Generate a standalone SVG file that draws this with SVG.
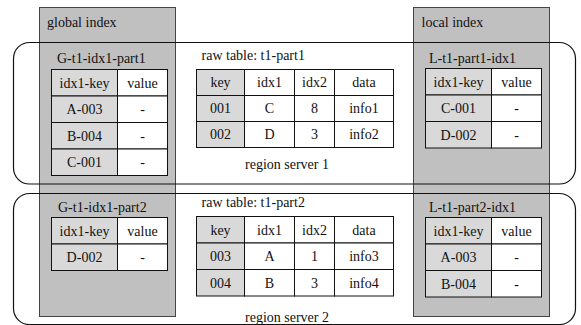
<svg xmlns="http://www.w3.org/2000/svg" width="581" height="325" viewBox="0 0 581 325">
<style>
text{font-family:'Liberation Serif','Times New Roman','DejaVu Serif',serif;font-size:14px;fill:#111}
.c{text-anchor:middle}
.panel{fill:#c0c0c0;stroke:#444;stroke-width:1}
.region{fill:none;stroke:#111;stroke-width:1.2}
.g{fill:#d9d9d9;stroke:#111;stroke-width:1}
.w{fill:#fff;stroke:#111;stroke-width:1}
</style>
<rect width="581" height="325" fill="#fff"/>
<g font-family="Liberation Serif, serif">
<g id="global-index">
<rect class="panel" x="39.5" y="7.5" width="136" height="309"/>
<text x="47" y="27">global index</text>
</g>
<g id="local-index">
<rect class="panel" x="413.5" y="7.5" width="136" height="309"/>
<text x="421.5" y="27">local index</text>
</g>
<g id="region-server-1">
<rect class="region" x="13.5" y="42.5" width="562" height="141.5" rx="16" ry="16"/>
<text x="287" y="169" class="c">region server 1</text>
</g>
<g id="region-server-2">
<rect class="region" x="13.5" y="193.5" width="562" height="131" rx="16" ry="16"/>
<text x="287" y="322" class="c">region server 2</text>
</g>
<g id="G-t1-idx1-part1">
<text x="57" y="63">G-t1-idx1-part1</text>
<rect class="g" x="51.5" y="69.5" width="66" height="26.5"/>
<rect class="w" x="117.5" y="69.5" width="50" height="26.5"/>
<rect class="g" x="51.5" y="96" width="66" height="26.5"/>
<rect class="w" x="117.5" y="96" width="50" height="26.5"/>
<rect class="g" x="51.5" y="122.5" width="66" height="26.5"/>
<rect class="w" x="117.5" y="122.5" width="50" height="26.5"/>
<rect class="g" x="51.5" y="149" width="66" height="26.5"/>
<rect class="w" x="117.5" y="149" width="50" height="26.5"/>
<text class="c" x="84.5" y="87.5">idx1-key</text><text class="c" x="142.5" y="87.5">value</text>
<text class="c" x="84.5" y="114">A-003</text><text class="c" x="142.5" y="114">-</text>
<text class="c" x="84.5" y="140.5">B-004</text><text class="c" x="142.5" y="140.5">-</text>
<text class="c" x="84.5" y="167">C-001</text><text class="c" x="142.5" y="167">-</text>
</g>
<g id="raw-table-t1-part1">
<text x="201.5" y="60">raw table: t1-part1</text>
<rect class="g" x="196.5" y="69.5" width="48" height="26"/>
<rect class="w" x="244.5" y="69.5" width="50" height="26"/>
<rect class="w" x="294.5" y="69.5" width="40" height="26"/>
<rect class="w" x="334.5" y="69.5" width="59" height="26"/>
<rect class="g" x="196.5" y="95.5" width="48" height="26"/>
<rect class="w" x="244.5" y="95.5" width="50" height="26"/>
<rect class="w" x="294.5" y="95.5" width="40" height="26"/>
<rect class="w" x="334.5" y="95.5" width="59" height="26"/>
<rect class="g" x="196.5" y="121.5" width="48" height="26"/>
<rect class="w" x="244.5" y="121.5" width="50" height="26"/>
<rect class="w" x="294.5" y="121.5" width="40" height="26"/>
<rect class="w" x="334.5" y="121.5" width="59" height="26"/>
<text class="c" x="220.5" y="87">key</text><text class="c" x="269.5" y="87">idx1</text><text class="c" x="314.5" y="87">idx2</text><text class="c" x="364" y="87">data</text>
<text class="c" x="220.5" y="113">001</text><text class="c" x="269.5" y="113">C</text><text class="c" x="314.5" y="113">8</text><text class="c" x="364" y="113">info1</text>
<text class="c" x="220.5" y="139">002</text><text class="c" x="269.5" y="139">D</text><text class="c" x="314.5" y="139">3</text><text class="c" x="364" y="139">info2</text>
</g>
<g id="L-t1-part1-idx1">
<text x="429" y="63">L-t1-part1-idx1</text>
<rect class="g" x="425.5" y="68.5" width="66" height="26.5"/>
<rect class="w" x="491.5" y="68.5" width="50" height="26.5"/>
<rect class="g" x="425.5" y="95" width="66" height="26.5"/>
<rect class="w" x="491.5" y="95" width="50" height="26.5"/>
<rect class="g" x="425.5" y="121.5" width="66" height="26.5"/>
<rect class="w" x="491.5" y="121.5" width="50" height="26.5"/>
<text class="c" x="458.5" y="86.5">idx1-key</text><text class="c" x="516.5" y="86.5">value</text>
<text class="c" x="458.5" y="113">C-001</text><text class="c" x="516.5" y="113">-</text>
<text class="c" x="458.5" y="139.5">D-002</text><text class="c" x="516.5" y="139.5">-</text>
</g>
<g id="G-t1-idx1-part2">
<text x="58" y="212">G-t1-idx1-part2</text>
<rect class="g" x="51.5" y="217.5" width="66" height="26.5"/>
<rect class="w" x="117.5" y="217.5" width="50" height="26.5"/>
<rect class="g" x="51.5" y="244" width="66" height="26.5"/>
<rect class="w" x="117.5" y="244" width="50" height="26.5"/>
<text class="c" x="84.5" y="235.5">idx1-key</text><text class="c" x="142.5" y="235.5">value</text>
<text class="c" x="84.5" y="262">D-002</text><text class="c" x="142.5" y="262">-</text>
</g>
<g id="raw-table-t1-part2">
<text x="201.5" y="207">raw table: t1-part2</text>
<rect class="g" x="196.5" y="216.5" width="48" height="26.5"/>
<rect class="w" x="244.5" y="216.5" width="50" height="26.5"/>
<rect class="w" x="294.5" y="216.5" width="40" height="26.5"/>
<rect class="w" x="334.5" y="216.5" width="59" height="26.5"/>
<rect class="g" x="196.5" y="243" width="48" height="26.5"/>
<rect class="w" x="244.5" y="243" width="50" height="26.5"/>
<rect class="w" x="294.5" y="243" width="40" height="26.5"/>
<rect class="w" x="334.5" y="243" width="59" height="26.5"/>
<rect class="g" x="196.5" y="269.5" width="48" height="26.5"/>
<rect class="w" x="244.5" y="269.5" width="50" height="26.5"/>
<rect class="w" x="294.5" y="269.5" width="40" height="26.5"/>
<rect class="w" x="334.5" y="269.5" width="59" height="26.5"/>
<text class="c" x="220.5" y="234.5">key</text><text class="c" x="269.5" y="234.5">idx1</text><text class="c" x="314.5" y="234.5">idx2</text><text class="c" x="364" y="234.5">data</text>
<text class="c" x="220.5" y="261">003</text><text class="c" x="269.5" y="261">A</text><text class="c" x="314.5" y="261">1</text><text class="c" x="364" y="261">info3</text>
<text class="c" x="220.5" y="287.5">004</text><text class="c" x="269.5" y="287.5">B</text><text class="c" x="314.5" y="287.5">3</text><text class="c" x="364" y="287.5">info4</text>
</g>
<g id="L-t1-part2-idx1">
<text x="429" y="212">L-t1-part2-idx1</text>
<rect class="g" x="425.5" y="217.5" width="66" height="26.5"/>
<rect class="w" x="491.5" y="217.5" width="50" height="26.5"/>
<rect class="g" x="425.5" y="244" width="66" height="26.5"/>
<rect class="w" x="491.5" y="244" width="50" height="26.5"/>
<rect class="g" x="425.5" y="270.5" width="66" height="26.5"/>
<rect class="w" x="491.5" y="270.5" width="50" height="26.5"/>
<text class="c" x="458.5" y="235.5">idx1-key</text><text class="c" x="516.5" y="235.5">value</text>
<text class="c" x="458.5" y="262">A-003</text><text class="c" x="516.5" y="262">-</text>
<text class="c" x="458.5" y="288.5">B-004</text><text class="c" x="516.5" y="288.5">-</text>
</g>
</g>
<g id="connectors"/>
</svg>
